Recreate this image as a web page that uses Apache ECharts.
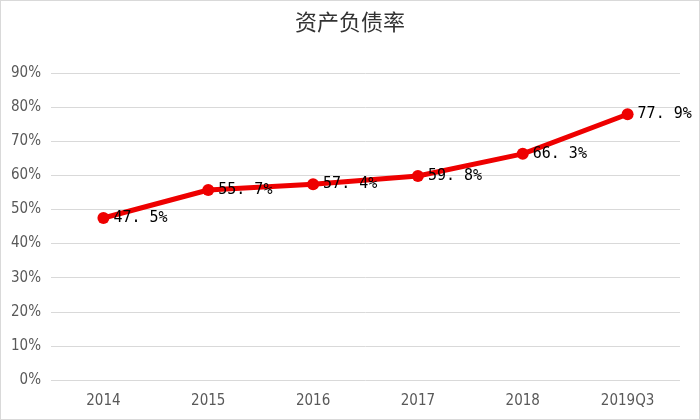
<!DOCTYPE html>
<html>
<head>
<meta charset="utf-8">
<script src="https://cdn.jsdelivr.net/npm/echarts@6/dist/echarts.min.js"></script>
<style>
html,body{margin:0;padding:0;background:#fff;}
#main{width:700px;height:420px;box-sizing:border-box;border:1px solid #d9d9d9;}
</style>
</head>
<body>
<div id="main"></div>
<script>
var categories = ['2014','2015','2016','2017','2018','2019Q3'];
var ratio = [47.5, 55.7, 57.4, 59.8, 66.3, 77.9];

var myChart = echarts.init(document.getElementById('main'));
var options = {
    backgroundColor: '#fff',
    animation: false,
    title: {
        text: '资产负债率',
        left: 'center',
        top: 5,
        textStyle: {
            fontFamily: 'Noto Sans CJK SC',
            fontWeight: 'normal',
            fontSize: 22,
            color: '#333'
        }
    },
    grid: {
        left: 50,
        right: 19,
        top: 72,
        bottom: 39
    },
    xAxis: {
        type: 'category',
        data: categories,
        axisLine: {show: false},
        axisTick: {show: false},
        axisLabel: {
            margin: 14,
            fontFamily: 'DejaVu Sans Condensed, Liberation Sans',
            fontSize: 15,
            color: '#595959'
        }
    },
    yAxis: {
        type: 'value',
        min: 0,
        max: 90,
        interval: 10,
        axisLabel: {
            formatter: '{value}%',
            margin: 10,
            fontFamily: 'DejaVu Sans Condensed, Liberation Sans',
            fontSize: 15,
            color: '#595959'
        },
        splitLine: {lineStyle: {color: '#d9d9d9', width: 1}}
    },
    series: [{
        name: '资产负债率',
        type: 'line',
        data: ratio,
        symbol: 'circle',
        symbolSize: 12,
        lineStyle: {color: '#ee0000', width: 5},
        itemStyle: {color: '#ee0000'},
        label: {
            show: true,
            position: 'right',
            distance: 4,
            formatter: function (p) { return p.value.toFixed(1).replace('.', '. ') + '%'; },
            fontFamily: 'DejaVu Sans Mono',
            fontSize: 15,
            color: '#000'
        }
    }]
};
myChart.setOption(options);
</script>
</body>
</html>
